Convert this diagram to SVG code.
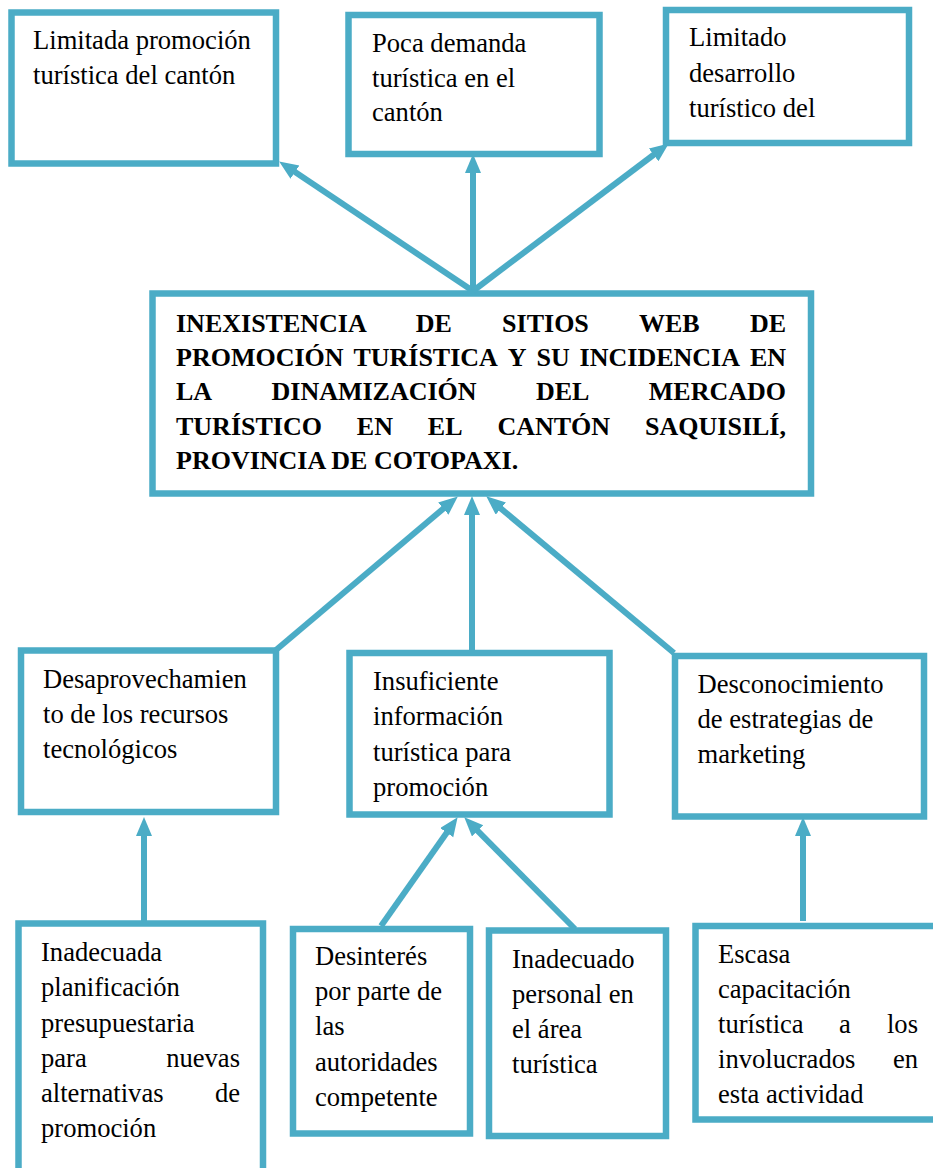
<svg xmlns="http://www.w3.org/2000/svg" width="933" height="1168" viewBox="0 0 933 1168">
<style>
.box{fill:#ffffff;stroke:#4BACC6;stroke-width:6.5}
.t{font-family:"Liberation Serif","Times New Roman",serif;font-size:26.6px;fill:#000}
.b{font-family:"Liberation Serif","Times New Roman",serif;font-size:26px;font-weight:bold;fill:#000}
.c{stroke:#4BACC6;stroke-width:6;fill:none;marker-end:url(#ah)}
</style>
<defs>
<marker id="ah" markerUnits="userSpaceOnUse" markerWidth="20" markerHeight="18" refX="8" refY="8" orient="auto">
<path d="M0,0 L19,8 L0,16 Z" fill="#4BACC6"/>
</marker>
</defs>
<rect width="933" height="1168" fill="#ffffff"/>

<g id="n-limitada-promocion">
<rect class="box" x="11.5" y="12.5" width="264.5" height="151"/>
<text class="t" x="33" y="48.5">Limitada promoción</text>
<text class="t" x="33" y="84">turística del cantón</text>
</g>

<g id="n-poca-demanda">
<rect class="box" x="348.5" y="15" width="251" height="139"/>
<text class="t" x="372" y="52">Poca demanda</text>
<text class="t" x="372" y="87">turística en el</text>
<text class="t" x="372" y="121">cantón</text>
</g>

<g id="n-limitado-desarrollo">
<rect class="box" x="666" y="10" width="243" height="133"/>
<text class="t" x="689" y="46">Limitado</text>
<text class="t" x="689" y="82">desarrollo</text>
<text class="t" x="689" y="117">turístico del</text>
</g>

<g id="n-central">
<rect class="box" x="152.5" y="293.5" width="658.5" height="200"/>
<text class="b" y="332"><tspan x="176">INEXISTENCIA</tspan><tspan x="415.8">DE</tspan><tspan x="502.1">SITIOS</tspan><tspan x="639">WEB</tspan><tspan x="786" text-anchor="end">DE</tspan></text>
<text class="b" y="366"><tspan x="176">PROMOCIÓN</tspan><tspan x="353.4">TURÍSTICA</tspan><tspan x="507.8">Y</tspan><tspan x="536.5">SU</tspan><tspan x="579.6">INCIDENCIA</tspan><tspan x="786" text-anchor="end">EN</tspan></text>
<text class="b" y="400"><tspan x="176">LA</tspan><tspan x="271.5">DINAMIZACIÓN</tspan><tspan x="536">DEL</tspan><tspan x="786" text-anchor="end">MERCADO</tspan></text>
<text class="b" y="435"><tspan x="176">TURÍSTICO</tspan><tspan x="356.8">EN</tspan><tspan x="427.8">EL</tspan><tspan x="497.4">CANTÓN</tspan><tspan x="786" text-anchor="end">SAQUISILÍ,</tspan></text>
<text class="b" x="176" y="469">PROVINCIA DE COTOPAXI.</text>
</g>

<g id="n-desaprovechamiento">
<rect class="box" x="21" y="650.5" width="255" height="161.5"/>
<text class="t" x="43" y="688">Desaprovechamien</text>
<text class="t" x="43" y="723">to de los recursos</text>
<text class="t" x="43" y="758">tecnológicos</text>
</g>

<g id="n-insuficiente">
<rect class="box" x="349.5" y="653" width="260" height="161.5"/>
<text class="t" x="373" y="690">Insuficiente</text>
<text class="t" x="373" y="725">información</text>
<text class="t" x="373" y="760.5">turística para</text>
<text class="t" x="373" y="796">promoción</text>
</g>

<g id="n-desconocimiento">
<rect class="box" x="675" y="656" width="249" height="160.5"/>
<text class="t" x="697.5" y="692.5">Desconocimiento</text>
<text class="t" x="697.5" y="728">de estrategias de</text>
<text class="t" x="697.5" y="762.5">marketing</text>
</g>

<g id="n-inadecuada-planificacion">
<rect class="box" x="18.5" y="923.5" width="244.5" height="300"/>
<text class="t" x="41" y="961">Inadecuada</text>
<text class="t" x="41" y="996">planificación</text>
<text class="t" x="41" y="1031.5">presupuestaria</text>
<text class="t" y="1066.5"><tspan x="41">para</tspan><tspan x="240" text-anchor="end">nuevas</tspan></text>
<text class="t" y="1101.5"><tspan x="41">alternativas</tspan><tspan x="240" text-anchor="end">de</tspan></text>
<text class="t" x="41" y="1136.5">promoción</text>
</g>

<g id="n-desinteres">
<rect class="box" x="293" y="929" width="177" height="204.5"/>
<text class="t" x="315" y="965">Desinterés</text>
<text class="t" x="315" y="1000">por parte de</text>
<text class="t" x="315" y="1035">las</text>
<text class="t" x="315" y="1071">autoridades</text>
<text class="t" x="315" y="1106">competente</text>
</g>

<g id="n-inadecuado-personal">
<rect class="box" x="489" y="930.5" width="177" height="205.5"/>
<text class="t" x="512" y="968">Inadecuado</text>
<text class="t" x="512" y="1003">personal en</text>
<text class="t" x="512" y="1037.5">el área</text>
<text class="t" x="512" y="1073">turística</text>
</g>

<g id="n-escasa-capacitacion">
<rect class="box" x="695.5" y="926" width="300" height="193.5"/>
<text class="t" x="718" y="963">Escasa</text>
<text class="t" x="718" y="998">capacitación</text>
<text class="t" y="1033"><tspan x="718">turística</tspan><tspan x="845" text-anchor="middle">a</tspan><tspan x="918" text-anchor="end">los</tspan></text>
<text class="t" y="1068"><tspan x="718">involucrados</tspan><tspan x="918" text-anchor="end">en</tspan></text>
<text class="t" x="718" y="1103">esta actividad</text>
</g>

<g id="connectors">
<line class="c" x1="473" y1="291" x2="288.3" y2="167.6"/>
<line class="c" x1="473" y1="291" x2="473" y2="165"/>
<line class="c" x1="473" y1="291" x2="660" y2="150"/>
<line class="c" x1="276" y1="650" x2="449.4" y2="503.5"/>
<line class="c" x1="472" y1="652" x2="472" y2="507"/>
<line class="c" x1="674" y1="653" x2="494.7" y2="503.4"/>
<line class="c" x1="144" y1="921" x2="144" y2="828"/>
<line class="c" x1="381" y1="926" x2="451.3" y2="826.2"/>
<line class="c" x1="575" y1="929" x2="472" y2="825.1"/>
<line class="c" x1="803" y1="921" x2="803" y2="828"/>
</g>
</svg>
